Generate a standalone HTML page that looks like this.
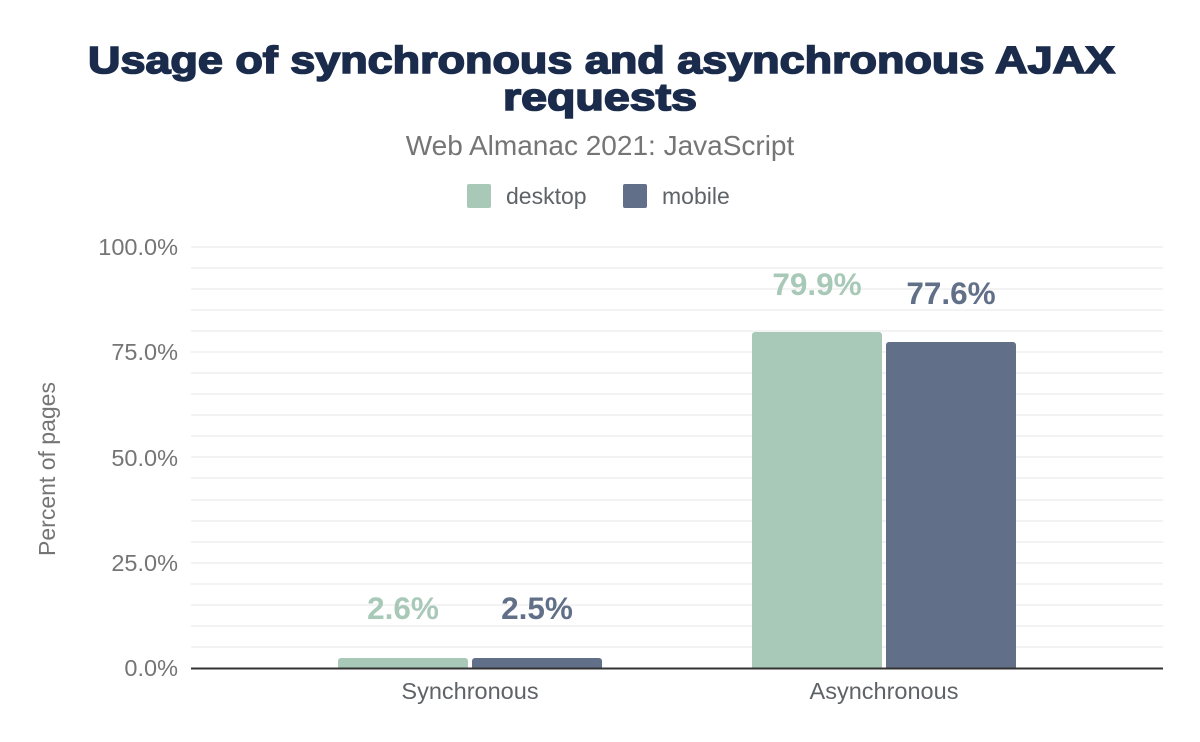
<!DOCTYPE html>
<html><head><meta charset="utf-8"><style>
html,body{margin:0;padding:0;background:#fff;width:1200px;height:742px;overflow:hidden}
text{font-family:"Liberation Sans",Arial,sans-serif}
</style></head><body>
<svg width="1200" height="742" xmlns="http://www.w3.org/2000/svg">
<g font-size="38" font-weight="bold" fill="#1a2b4b" stroke="#1a2b4b" stroke-width="1.6">
<text x="88" y="73" textLength="1027" lengthAdjust="spacingAndGlyphs">Usage of synchronous and asynchronous AJAX</text>
<text x="503" y="110" textLength="194" lengthAdjust="spacingAndGlyphs">requests</text>
</g>
<text x="600" y="155" text-anchor="middle" font-size="28" fill="#757575">Web Almanac 2021: JavaScript</text>
<rect x="467" y="184" width="24" height="24" rx="2" fill="#a8c8b8"/>
<text x="506" y="204" font-size="23" fill="#5f6368">desktop</text>
<rect x="623" y="184" width="24" height="24" rx="2" fill="#617088"/>
<text x="662" y="204" font-size="23" fill="#5f6368">mobile</text>
<g stroke="#f3f3f3" stroke-width="2">
<line x1="191" x2="1163" y1="247" y2="247"/><line x1="191" x2="1163" y1="268" y2="268"/><line x1="191" x2="1163" y1="289" y2="289"/><line x1="191" x2="1163" y1="310" y2="310"/><line x1="191" x2="1163" y1="331" y2="331"/><line x1="191" x2="1163" y1="352" y2="352"/><line x1="191" x2="1163" y1="373" y2="373"/><line x1="191" x2="1163" y1="394" y2="394"/><line x1="191" x2="1163" y1="415" y2="415"/><line x1="191" x2="1163" y1="436" y2="436"/><line x1="191" x2="1163" y1="457" y2="457"/><line x1="191" x2="1163" y1="478" y2="478"/><line x1="191" x2="1163" y1="500" y2="500"/><line x1="191" x2="1163" y1="521" y2="521"/><line x1="191" x2="1163" y1="542" y2="542"/><line x1="191" x2="1163" y1="563" y2="563"/><line x1="191" x2="1163" y1="584" y2="584"/><line x1="191" x2="1163" y1="605" y2="605"/><line x1="191" x2="1163" y1="626" y2="626"/><line x1="191" x2="1163" y1="647" y2="647"/>
</g>
<g font-size="23.5" fill="#757575" text-anchor="end">
<text x="178" y="255">100.0%</text><text x="178" y="360">75.0%</text><text x="178" y="466">50.0%</text><text x="178" y="571">25.0%</text><text x="178" y="676">0.0%</text>
</g>
<text transform="translate(55,469) rotate(-90)" text-anchor="middle" font-size="23" fill="#757575">Percent of pages</text>
<path d="M338 668V661a3 3 0 0 1 3-3H465a3 3 0 0 1 3 3V668Z" fill="#a8c8b8"/>
<path d="M472 668V661a3 3 0 0 1 3-3H599a3 3 0 0 1 3 3V668Z" fill="#617088"/>
<path d="M752 668V335a3 3 0 0 1 3-3H879a3 3 0 0 1 3 3V668Z" fill="#a8c8b8"/>
<path d="M886 668V345a3 3 0 0 1 3-3H1013a3 3 0 0 1 3 3V668Z" fill="#617088"/>
<line x1="191" x2="1163" y1="668.5" y2="668.5" stroke="#333" stroke-width="2"/>
<g font-size="31.5" font-weight="bold" text-anchor="middle">
<text x="403" y="619" fill="#a8c8b8">2.6%</text><text x="537" y="619" fill="#617088">2.5%</text>
<text x="817" y="295" fill="#a8c8b8">79.9%</text><text x="951" y="304" fill="#617088">77.6%</text>
</g>
<g font-size="23.5" fill="#5f6368" text-anchor="middle">
<text x="470" y="699">Synchronous</text><text x="884" y="699">Asynchronous</text>
</g>
</svg>
</body></html>
